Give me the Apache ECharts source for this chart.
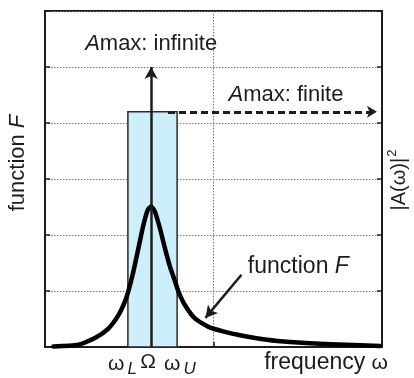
<!DOCTYPE html>
<html>
<head>
<meta charset="utf-8">
<script src="https://cdn.jsdelivr.net/npm/echarts@6/dist/echarts.min.js"></script>
<style>
  html, body { margin: 0; padding: 0; background: #fff; }
  #chart { width: 414px; height: 378px; }
</style>
</head>
<body>
<div id="chart"></div>
<script>
// Response curve F(ω): frequency (0–100 scale) and function value (0–6 scale)
const freq  = [2.5, 9.9, 14.8, 18.8, 21.8, 23.7, 24.7, 26.2, 27.7, 29.2, 30.5, 31.5, 32.6, 34.1, 35.6, 37.1, 38.6, 39.6, 41.5, 44.5, 48.5, 53.4, 57.9, 65.9, 72.7, 84.6, 99.4];
const funcF = [0.01, 0.04, 0.16, 0.33, 0.57, 0.81, 0.99, 1.34, 1.76, 2.18, 2.45, 2.51, 2.42, 2.12, 1.76, 1.43, 1.17, 0.99, 0.75, 0.51, 0.36, 0.27, 0.21, 0.13, 0.09, 0.05, 0.02];

// Band edges and centre frequency
const omegaL = 24.6;
const omegaC = 31.5;
const omegaU = 39.2;

// Band height |A(ω)|², infinite-amplitude arrow tip, finite-amplitude arrow span
const bandTop = 4.2;
const infiniteTop = 5.0;
const finiteFrom = 36.5;
const finiteTo = 98.5;

// Pointer arrow from the "function F" note to the curve
const pointerFrom = [58.3, 1.29];
const pointerTo = [47.6, 0.52];

// Axis extents and grid spacing
const xMin = 0, xMax = 100, xStep = 50;
const yMin = 0, yMax = 6, yStep = 1;

const FONT = "'Liberation Sans', Arial, sans-serif";
const INK = '#1c1c1c';
const gridDots = { color: '#7a7a7a', width: 1, type: [1.5, 1.5] };

const chart = echarts.init(document.getElementById('chart'), null, { renderer: 'canvas' });

const yAxisBase = {
  type: 'value', min: yMin, max: yMax, interval: yStep,
  axisLine: { show: true, lineStyle: { color: INK, width: 2 } },
  axisTick: { show: true, inside: true, length: 5, lineStyle: { color: INK, width: 1.5 } },
  axisLabel: { show: false },
  splitLine: { show: false }
};

chart.setOption({
  animation: false,
  grid: { left: 45, right: 32, top: 11, bottom: 31, show: true, borderColor: INK, borderWidth: 2, backgroundColor: 'transparent' },
  xAxis: {
    type: 'value', min: xMin, max: xMax, interval: xStep,
    axisLine: { show: true, lineStyle: { color: INK, width: 2 } },
    axisTick: { show: true, inside: true, length: 5, lineStyle: { color: INK, width: 1.5 } },
    axisLabel: { show: false },
    splitLine: { show: true, lineStyle: gridDots }
  },
  yAxis: [
    Object.assign({}, yAxisBase, { position: 'left', splitLine: { show: true, lineStyle: gridDots } }),
    Object.assign({}, yAxisBase, { position: 'right' })
  ],
  series: [
    {
      // pass band ωL..ωU
      type: 'line', data: [], silent: true,
      markArea: {
        silent: true,
        itemStyle: { color: '#cdeefb', borderColor: '#2a2a2a', borderWidth: 1.5 },
        data: [[{ coord: [omegaL, yMin] }, { coord: [omegaU, bandTop] }]]
      },
      z: 1
    },
    {
      // arrows: infinite amplitude, finite amplitude, pointer to the curve
      type: 'line', data: [], silent: true, z: 3,
      markLine: {
        silent: true,
        label: { show: false },
        emphasis: { disabled: true },
        data: [
          [
            { coord: [omegaC, yMin], symbol: 'none', lineStyle: { color: INK, width: 2.5, type: 'solid' } },
            { coord: [omegaC, infiniteTop], symbol: 'arrow', symbolSize: [10, 12] }
          ],
          [
            { coord: [finiteFrom, bandTop], symbol: 'none', lineStyle: { color: INK, width: 3, type: [7, 4] } },
            { coord: [finiteTo, bandTop], symbol: 'arrow', symbolSize: [9, 10] }
          ],
          [
            { coord: pointerFrom, symbol: 'none', lineStyle: { color: INK, width: 2.5, type: 'solid' } },
            { coord: pointerTo, symbol: 'arrow', symbolSize: [10, 12] }
          ]
        ]
      }
    },
    {
      name: 'function F',
      type: 'line',
      data: freq.map((f, i) => [f, funcF[i]]),
      smooth: 0.2,
      showSymbol: false,
      lineStyle: { color: '#000', width: 4.5, cap: 'round', join: 'round' },
      z: 4
    }
  ]
});

// Text placed through the chart's own scales
function px(x, y) { return chart.convertToPixel({ xAxisIndex: 0, yAxisIndex: 0 }, [x, y]); }

function styles(size) {
  return {
    i: { fontStyle: 'italic', fontSize: size, fontFamily: FONT, fill: INK },
    n: { fontSize: size, fontFamily: FONT, fill: INK }
  };
}

function text(pos, str, size, opts) {
  return {
    type: 'text', x: pos[0], y: pos[1], silent: true, z: 100,
    style: Object.assign({ text: str, font: size + 'px ' + FONT, fill: INK, align: 'center', verticalAlign: 'middle', rich: styles(size) }, opts || {})
  };
}

const infPos = px(omegaC, 5.41);
const finPos = px(71.5, 4.5);
const notePos = px(60.2, 1.43);
const lPos = px(omegaL, 0);
const cPos = px(omegaC, 0);
const uPos = px(omegaU, 0);
const sub = { fontSize: 17, fontStyle: 'italic', fontFamily: FONT, fill: INK, padding: [10, 0, 0, 3] };
const w = { fontSize: 21, fontFamily: FONT, fill: INK };

const leftTitle = text([18, 163], '{n|function }{i|F}', 22);
leftTitle.rotation = Math.PI / 2;
const rightTitle = text([399, 180], '{n||A(ω)|}{s|2}', 20, {
  rich: { n: { fontSize: 20, fontFamily: FONT, fill: INK }, s: { fontSize: 13, fontFamily: FONT, fill: INK, padding: [0, 0, 13, 1] } }
});
rightTitle.rotation = Math.PI / 2;

chart.setOption({
  graphic: [
    text(infPos, '{i|A}{n|max: infinite}', 22),
    text(finPos, '{i|A}{n|max: finite}', 22),
    text(notePos, '{n|function }{i|F}', 23, { align: 'left' }),
    leftTitle,
    rightTitle,
    // band labels under the axis
    text([lPos[0] + 9, cPos[1] + 17], '{w|ω}{s|L}', 21, { align: 'right', rich: { w: w, s: sub } }),
    text([cPos[0] - 3, cPos[1] + 15], '{w|Ω}', 21, { rich: { w: w } }),
    text([uPos[0] - 13, cPos[1] + 17], '{w|ω}{s|U}', 21, { align: 'left', rich: { w: w, s: sub } }),
    text([388, cPos[1] + 16], '{n|frequency }{w|ω}', 23, { align: 'right', rich: { n: { fontSize: 23, fontFamily: FONT, fill: INK }, w: { fontSize: 21, fontFamily: FONT, fill: INK } } })
  ]
});
</script>
</body>
</html>
